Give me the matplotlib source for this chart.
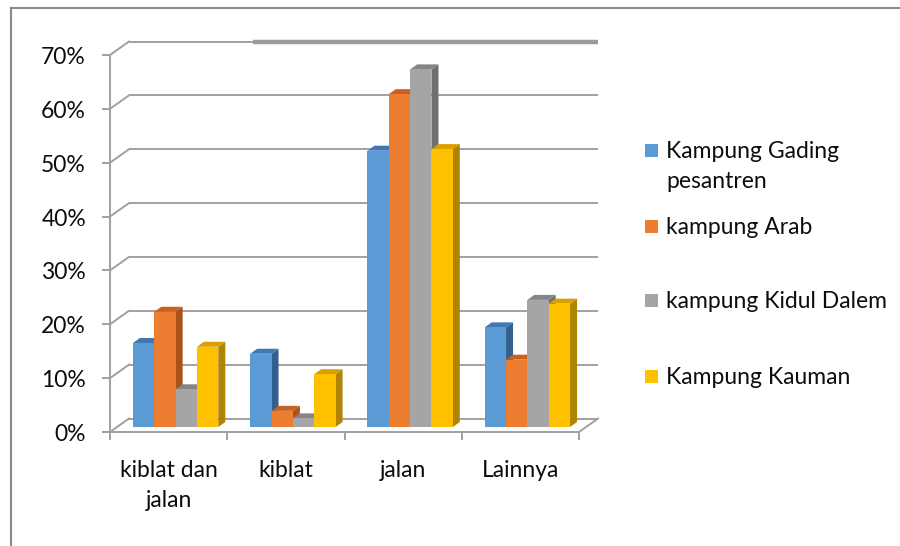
import matplotlib
matplotlib.use("Agg")
import matplotlib.pyplot as plt
from matplotlib.patches import Polygon, Rectangle
from matplotlib.lines import Line2D

# ---- data ----
categories = ["kiblat dan\njalan", "kiblat", "jalan", "Lainnya"]
series_names = ["Kampung Gading\npesantren", "kampung Arab",
                "kampung Kidul Dalem", "Kampung Kauman"]
gading = [0.156, 0.136, 0.513, 0.185]
arab = [0.214, 0.030, 0.618, 0.125]
kidul = [0.070, 0.016, 0.664, 0.236]
kauman = [0.149, 0.098, 0.516, 0.229]
series_values = [gading, arab, kidul, kauman]
y_ticks = [0.0, 0.1, 0.2, 0.3, 0.4, 0.5, 0.6, 0.7]
y_tick_labels = ["0%", "10%", "20%", "30%", "40%", "50%", "60%", "70%"]

# front / top / side face colours per series
front_colors = ["#5B9BD5", "#ED7D31", "#A5A5A5", "#FFC000"]
top_colors = ["#3F78B4", "#C8601F", "#858585", "#D9A000"]
side_colors = ["#335F8E", "#A9531C", "#6F6F6F", "#AE8400"]

FONT = "Lato"
FS = 16.5
TXT = "#0d0d0d"
GRID = "#a0a0a0"
LINESP = 1.55

W, H = 900, 546
fig = plt.figure(figsize=(W / 100, H / 100), dpi=100)

# front plane of the plot box in pixels
left_px, right_px, top_px, bottom_px = 110, 579, 55, 432
ax = fig.add_axes([left_px / W, 1 - bottom_px / H,
                   (right_px - left_px) / W, (bottom_px - top_px) / H])
n_cat = len(categories)
ax.set_xlim(0, n_cat)
ax.set_ylim(0, 0.7)
ax.axis("off")

sx = (right_px - left_px) / n_cat      # pixels per category
sy = (bottom_px - top_px) / 0.7        # pixels per unit value


def off(dx_px, dy_px):
    return dx_px / sx, dy_px / sy


bx, by = off(19, 13.5)      # back wall offset
px0, py0 = off(7, 5)        # bar plane offset
ddx, ddy = off(7, 5)        # bar depth

lw_grid = 1.4
# back-wall gridlines and left side-wall diagonals
for v in y_ticks:
    ax.plot([bx, n_cat + bx], [v + by, v + by], color=GRID, lw=lw_grid,
            clip_on=False, zorder=1, solid_capstyle="butt")
    ax.plot([0, bx], [v, v + by], color=GRID, lw=lw_grid, clip_on=False, zorder=1)
# heavier segment along the top
ax.plot([(253 - left_px - 19) / sx + bx, n_cat + bx], [0.7 + by, 0.7 + by],
        color="#9a9a9a", lw=3.2, clip_on=False, zorder=1, solid_capstyle="butt")

# floor front edge and right diagonal
ax.plot([-7 / sx, n_cat], [0, 0], color=GRID, lw=lw_grid, clip_on=False, zorder=6)
ax.plot([n_cat, n_cat + bx], [0, by], color=GRID, lw=lw_grid, clip_on=False, zorder=1)
# vertical axis line and ticks
ax.plot([0, 0], [0, 0.7], color=GRID, lw=lw_grid, clip_on=False, zorder=6)
for v, lab in zip(y_ticks, y_tick_labels):
    ax.plot([-7 / sx, 0], [v, v], color=GRID, lw=lw_grid, clip_on=False, zorder=6)
    ax.text(-24 / sx, v - 2.5 / sy, lab, ha="right", va="center", fontsize=FS,
            family=FONT, color=TXT)
for i in range(n_cat + 1):
    ax.plot([i, i], [0, -7 / sy], color=GRID, lw=lw_grid, clip_on=False, zorder=6)
for i, lab in enumerate(categories):
    ax.text(i + 0.5, -28 / sy, lab, ha="center", va="top", fontsize=FS,
            family=FONT, color=TXT, linespacing=LINESP)

# 3D-style columns
bar_w = 0.182
n_ser = len(series_values)
z = 3
for ci in range(n_cat):
    for si in range(n_ser):
        v = series_values[si][ci]
        x0 = ci + 0.5 + (si - n_ser / 2) * bar_w + px0
        x1 = x0 + bar_w
        b = py0
        side = Polygon([(x1, b), (x1, b + v), (x1 + ddx, b + v + ddy), (x1 + ddx, b + ddy)],
                       closed=True, facecolor=side_colors[si], edgecolor="none",
                       zorder=z, clip_on=False)
        top = Polygon([(x0, b + v), (x1, b + v), (x1 + ddx, b + v + ddy), (x0 + ddx, b + v + ddy)],
                      closed=True, facecolor=top_colors[si], edgecolor="none",
                      zorder=z, clip_on=False)
        ax.add_patch(side)
        ax.add_patch(top)
        ax.bar(x0, v, width=bar_w, bottom=b, align="edge", color=front_colors[si],
               edgecolor="none", zorder=z + 0.5, clip_on=False)
        z += 1

# legend
leg_y = [150, 226, 300, 376]
for si, name in enumerate(series_names):
    yc = leg_y[si]
    fig.patches.append(Rectangle((645 / W, 1 - (yc + 6.5) / H), 13 / W, 13 / H,
                                 transform=fig.transFigure, facecolor=front_colors[si],
                                 edgecolor="none"))
    fig.text(666 / W, 1 - (yc - 9) / H, name, ha="left", va="top", fontsize=FS,
             family=FONT, color=TXT, linespacing=LINESP)

# outer frame (left and top edges)
fig.add_artist(Line2D([10.5 / W, 10.5 / W], [0, 1 - 8 / H], color="#8a8a8a", lw=1.5,
                      transform=fig.transFigure))
fig.add_artist(Line2D([10.5 / W, 1], [1 - 8 / H, 1 - 8 / H], color="#8a8a8a", lw=1.5,
                      transform=fig.transFigure))

fig.savefig("out.png", dpi=100, facecolor="white")
